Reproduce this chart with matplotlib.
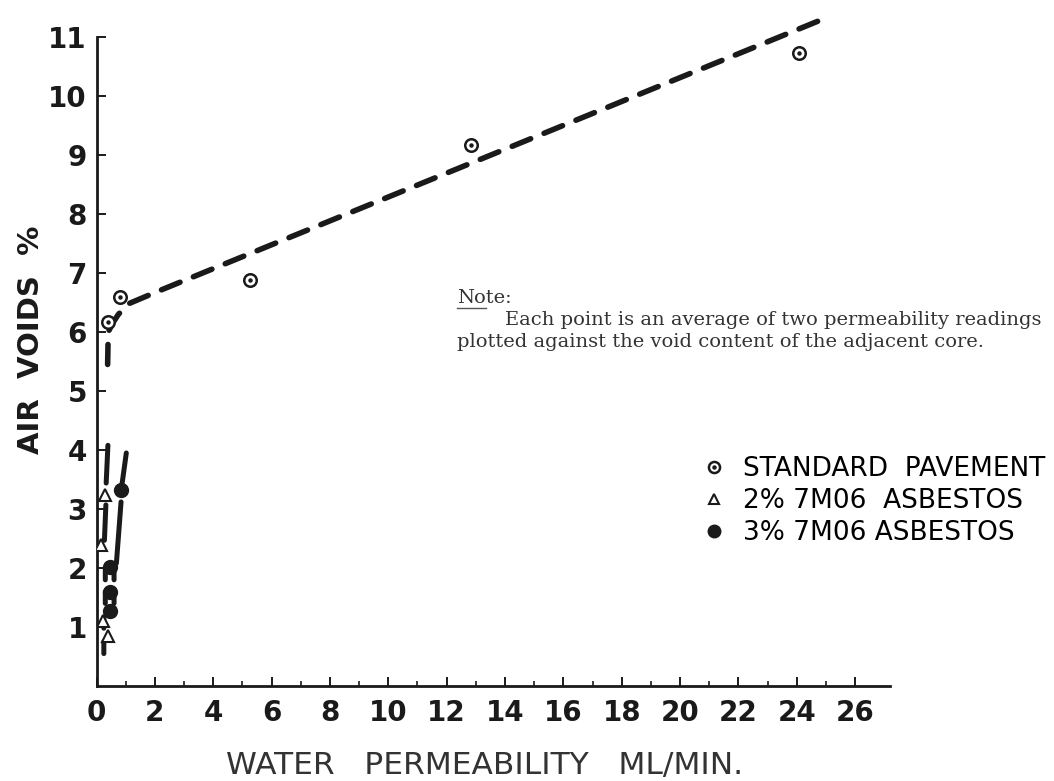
import numpy as np
import matplotlib
matplotlib.use("Agg")
import matplotlib.pyplot as plt
from matplotlib.lines import Line2D
from matplotlib.legend_handler import HandlerTuple

# Standard pavement readings (permeability ml/min, air voids %)
std_perm = [0.38, 0.82, 5.25, 12.83, 24.09]
std_voids = [6.17, 6.60, 6.88, 9.17, 10.73]

# 2 % 7M06 asbestos
a2_perm = [0.28, 0.15, 0.22, 0.38]
a2_voids = [3.24, 2.39, 1.10, 0.84]

# 3 % 7M06 asbestos
a3_perm = [0.85, 0.45, 0.45, 0.45]
a3_voids = [3.32, 2.02, 1.60, 1.27]

# hand-drawn trend for standard pavement
std_fit_x = [0.38, 0.40, 0.55, 0.75, 1.10, 2.20, 25.08]
std_fit_y = [5.45, 6.00, 6.15, 6.30, 6.48, 6.71, 11.34]

# hand-drawn trends for the asbestos mixes (NaN breaks the stroke)
a2_fit_x = [0.39, 0.33, np.nan, 0.32, 0.27, np.nan, 0.30, 0.30, np.nan,
            0.30, 0.30, np.nan, 0.25, 0.25, np.nan, 0.25, 0.25]
a2_fit_y = [4.08, 3.44, np.nan, 3.07, 2.47, np.nan, 2.00, 1.80, np.nan,
            1.60, 1.40, np.nan, 1.17, 0.98, np.nan, 0.75, 0.55]
a3_fit_x = [1.02, 0.87, np.nan, 0.84, 0.68, np.nan, 0.60, 0.60, np.nan,
            0.60, 0.60]
a3_fit_y = [3.95, 3.41, np.nan, 3.12, 2.08, np.nan, 1.95, 1.80, np.nan,
            1.55, 1.40]

legend_labels = ["STANDARD  PAVEMENT", "2% 7M06  ASBESTOS", "3% 7M06 ASBESTOS"]

INK = "#1a1a1a"

fig = plt.figure(figsize=(10.54, 7.81), dpi=100)
ax = fig.add_axes([0.0916, 0.1216, 0.7529, 0.8310])

ax.plot(std_fit_x, std_fit_y, color=INK, lw=4.0, linestyle=(0, (3.6, 2.6)),
        dash_capstyle="round", clip_on=False, zorder=2)
ax.plot(a2_fit_x, a2_fit_y, color=INK, lw=3.6, solid_capstyle="round", zorder=2)
ax.plot(a3_fit_x, a3_fit_y, color=INK, lw=3.6, solid_capstyle="round", zorder=2)

ax.plot(std_perm, std_voids, "o", ms=9, mfc="white", mec=INK, mew=1.8, zorder=4)
ax.plot(std_perm, std_voids, "o", ms=2.2, color=INK, zorder=5)
ax.plot(a2_perm, a2_voids, "^", ms=8, mfc="white", mec=INK, mew=1.5, zorder=4)
ax.plot(a3_perm, a3_voids, "o", ms=10, color=INK, zorder=4)

ax.set_xlim(0, 27.2)
ax.set_ylim(0, 11)
ax.set_xticks(np.arange(0, 27, 2))
ax.set_xticks(np.arange(1, 27, 2), minor=True)
ax.set_yticks(np.arange(1, 12))

for side in ("top", "right"):
    ax.spines[side].set_visible(False)
for side in ("left", "bottom"):
    ax.spines[side].set_linewidth(2.0)
    ax.spines[side].set_color(INK)

ax.tick_params(axis="both", which="major", direction="in", length=6.5,
               width=1.4, color=INK, labelsize=20, labelcolor=INK)
ax.tick_params(axis="x", which="minor", direction="in", length=3.5,
               width=1.2, color=INK)
ax.tick_params(axis="x", which="major", pad=9)
ax.tick_params(axis="y", which="major", pad=7)
for lab in ax.get_xticklabels() + ax.get_yticklabels():
    lab.set_fontweight("bold")

fig.text(0.029, 0.565, "AIR  VOIDS  %", rotation=90, ha="center", va="center",
         fontsize=21, fontweight="bold", color=INK)
fig.text(0.46, 0.02, "WATER   PERMEABILITY   ML/MIN.", ha="center", va="center",
         fontsize=22.5, color="#333333")

# note block
NOTE = dict(fontsize=14, family="DejaVu Serif", color="#333333", va="center")
fig.text(0.4335, 0.619, "Note:", **NOTE)
fig.add_artist(Line2D([0.4335, 0.461], [0.605, 0.605], color="#555555", lw=1.0))
fig.text(0.479, 0.590, "Each point is an average of two permeability readings", **NOTE)
fig.text(0.4335, 0.562, "plotted against the void content of the adjacent core.", **NOTE)

h_std = (Line2D([], [], ls="", marker="o", ms=8, mfc="white", mec=INK, mew=1.8),
         Line2D([], [], ls="", marker="o", ms=2.2, color=INK))
h_a2 = Line2D([], [], ls="", marker="^", ms=7, mfc="white", mec=INK, mew=1.5)
h_a3 = Line2D([], [], ls="", marker="o", ms=9, color=INK)
ax.legend([h_std, h_a2, h_a3], legend_labels,
          handler_map={tuple: HandlerTuple(ndivide=1)},
          loc="upper left", bbox_to_anchor=(0.755, 0.37), frameon=False,
          fontsize=19, handlelength=0.6, handletextpad=0.8, labelspacing=0.22,
          borderaxespad=0)

fig.savefig("out.png", dpi=100)
